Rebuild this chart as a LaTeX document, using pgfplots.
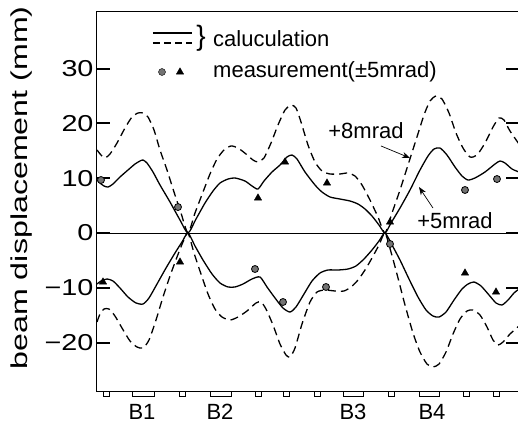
\documentclass[border=0pt]{standalone}
\usepackage{fontspec}
\setmainfont{Liberation Sans}
\usepackage{graphicx}
\usepackage{pgfplots}
\pgfplotsset{compat=1.18}
\usetikzlibrary{arrows.meta}
\newcommand\hs[1]{\scalebox{1.25}[1]{#1}}
\newcommand\bigf{\fontsize{22bp}{26bp}\selectfont}

\begin{document}
\begin{tikzpicture}
\begin{axis}[
    scale only axis, width=422bp, height=379bp,
    at={(0,0)}, anchor=south west,
    xmin=0, xmax=422, ymin=-28.83, ymax=40.33,
    clip=false,
    axis line style={line width=1bp},
    ytick={-20,-10,0,10,20,30},
    yticklabels={\hs{−20},\hs{−10},\hs{0},\hs{10},\hs{20},\hs{30}},
    yticklabel style={font=\fontsize{23bp}{26bp}\selectfont},
    ytick style={draw=black, line width=2bp},
    major tick length=13bp,
    xtick=\empty,
]
% zero line
\addplot[line width=0.9bp, forget plot] coordinates {(0,0)(422,0)};

% +5 mrad, calculation
\addplot[black, line width=1.3bp, smooth, tension=0.4] coordinates {
(0,9.67)(3,9.12)(7,8.58)(11,8.39)(16,8.94)(23,10.22)(31,11.50)(38,12.59)(43,13.14)(46,13.32)
(50,12.77)(56,11.13)(63,8.76)(73,5.66)(83,2.37)(91,0)(99,2.55)(108,5.47)(116,7.66)(123,9.12)
(131,9.85)(138,10.04)(148,9.49)(155,8.58)(161,8.03)(167,9.49)(175,11.13)(183,12.41)(190,13.87)
(195,14.23)(200,13.50)(208,11.13)(218,8.76)(225,7.48)(233,6.57)(243,6.20)(253,5.84)(261,5.29)
(268,4.38)(275,3.10)(282,1.46)(288,0)(294,1.82)(303,4.56)(313,7.85)(323,11.50)(331,14.05)
(337,15.33)(343,15.51)(350,14.23)(358,12.04)(365,10.40)(371,9.67)(378,10.04)(388,11.13)
(398,12.59)(403,13.14)(408,12.77)(415,11.68)(422,11.13)};
\addplot[black, line width=1.3bp, smooth, tension=0.4] coordinates {
(0,-9.31)(4,-8.76)(10,-8.39)(16,-8.76)(23,-10.04)(31,-11.68)(39,-12.77)(46,-12.96)(52,-11.86)
(60,-9.31)(69,-6.39)(78,-3.65)(85,-1.64)(91,0)(98,-2.37)(106,-4.93)(115,-7.48)(123,-9.12)
(131,-9.85)(138,-9.85)(146,-9.31)(155,-8.39)(163,-8.03)(170,-9.85)(178,-11.86)(186,-13.69)
(193,-14.42)(199,-13.50)(207,-11.13)(215,-8.76)(223,-7.30)(231,-6.75)(241,-6.75)(251,-6.57)
(259,-6.02)(267,-4.74)(275,-3.10)(282,-1.46)(288,0)(295,-2.19)(303,-4.93)(312,-8.39)
(321,-11.68)(329,-14.05)(336,-15.15)(342,-15.33)(349,-14.42)(357,-12.23)(365,-10.22)
(371,-9.31)(377,-8.94)(384,-9.67)(392,-11.31)(399,-12.77)(405,-13.14)(411,-12.23)
(417,-10.95)(422,-10.22)};

% +8 mrad, calculation
\addplot[black, line width=1.3bp, dash pattern=on 8bp off 5bp, smooth, tension=0.4] coordinates {
(0,15.15)(4,14.23)(8,13.69)(13,14.42)(20,16.42)(28,19.16)(35,21.17)(41,21.90)(46,21.90)
(51,21.17)(57,18.80)(63,15.15)(70,11.50)(77,7.48)(84,3.65)(91,0)(98,3.65)(106,7.48)(113,10.77)
(120,13.50)(127,15.15)(134,15.88)(141,15.51)(149,14.42)(156,13.32)(161,12.96)(167,13.69)
(174,16.42)(181,19.71)(188,22.45)(194,23.36)(199,22.81)(204,20.26)(211,16.06)(218,12.96)
(225,11.31)(233,10.77)(243,10.77)(251,10.95)(258,10.40)(265,8.76)(273,6.02)(281,2.92)(288,0)
(295,3.65)(303,7.85)(311,12.41)(319,16.97)(327,21.53)(333,24.09)(339,25.0)(345,24.45)
(352,21.90)(359,18.25)(366,15.51)(373,13.87)(380,14.23)(388,16.42)(396,19.34)(402,20.99)
(407,20.62)(413,18.61)(422,16.24)};
\addplot[black, line width=1.3bp, dash pattern=on 8bp off 5bp, smooth, tension=0.4] coordinates {
(0,-16.24)(3,-14.78)(7,-13.87)(12,-13.87)(18,-15.15)(25,-17.34)(33,-19.71)(40,-20.80)
(46,-20.99)(52,-19.53)(59,-15.88)(66,-11.68)(73,-7.85)(80,-4.38)(86,-1.64)(91,0)(97,-3.65)
(104,-7.48)(111,-11.13)(118,-13.87)(125,-15.33)(133,-15.88)(141,-15.33)(150,-14.23)
(159,-12.77)(164,-12.59)(169,-13.87)(176,-16.79)(183,-20.26)(189,-22.26)(193,-22.63)
(198,-20.99)(205,-16.61)(213,-12.59)(220,-10.77)(228,-10.40)(238,-10.58)(247,-10.58)
(254,-9.85)(261,-8.58)(268,-6.75)(275,-4.56)(282,-2.19)(288,0)(294,-3.47)(301,-8.21)
(308,-13.14)(316,-18.25)(323,-21.72)(330,-23.91)(336,-24.45)(342,-23.91)(349,-21.72)
(356,-18.43)(363,-15.69)(370,-14.23)(376,-14.05)(383,-14.96)(390,-17.15)(396,-19.53)
(401,-20.44)(406,-19.89)(413,-18.43)(422,-16.97)};

% measurements
\addplot[only marks, mark=*, mark size=3.5bp,
  mark options={fill=black!55, draw=black, line width=0.8bp}] coordinates {
(4,9.67)(81,4.74)(293,-2.0)(368,7.85)(400,9.85)(158,-6.57)(186,-12.59)(229,-9.85)};
\addplot[only marks, mark=triangle*, mark size=4.2bp,
  mark options={fill=black, draw=black}] coordinates {
(6,-8.94)(83,-5.29)(161,6.39)(188,12.96)(230,9.12)(293,2.0)(368,-7.3)(399,-10.77)};

% legend
\addplot[black, line width=1.3bp, forget plot] coordinates {(56,36.5)(95,36.5)};
\addplot[black, line width=1.3bp, dash pattern=on 7bp off 4bp, forget plot] coordinates {(56,34.67)(95,34.67)};
\addplot[only marks, mark=*, mark size=3.5bp, mark options={fill=black!55, draw=black}, forget plot]
  coordinates {(65,29.38)};
\addplot[only marks, mark=triangle*, mark size=4.2bp, mark options={fill=black}, forget plot]
  coordinates {(83,29.38)};
\node[font=\fontsize{28bp}{30bp}\selectfont] at (axis cs:104,35.6) {\}};
\node[font=\bigf, anchor=west, inner sep=0pt] at (axis cs:116,35.4) {caluculation};
\node[font=\bigf, anchor=west, inner sep=0pt] at (axis cs:116,29.38) {measurement(±5mrad)};

% annotations
\node[font=\bigf] at (axis cs:269,18.61) {+8mrad};
\draw[-{Stealth[length=8bp,width=6bp]}, line width=0.7bp] (axis cs:284,15.88) -- (axis cs:313,13.69);
\node[font=\bigf] at (axis cs:358,2.19) {+5mrad};
\draw[-{Stealth[length=8bp,width=6bp]}, line width=0.7bp] (axis cs:336,4.56) -- (axis cs:322,8.39);

% magnet lattice
\draw[line width=0.8bp] (axis cs:6,-28.83) rectangle (axis cs:12,-29.74);
\draw[line width=0.8bp] (axis cs:82,-28.83) rectangle (axis cs:88,-29.74);
\draw[line width=0.8bp] (axis cs:158,-28.83) rectangle (axis cs:164,-29.74);
\draw[line width=0.8bp] (axis cs:186,-28.83) rectangle (axis cs:192,-29.74);
\draw[line width=0.8bp] (axis cs:217,-28.83) rectangle (axis cs:223,-29.74);
\draw[line width=0.8bp] (axis cs:291,-28.83) rectangle (axis cs:297,-29.74);
\draw[line width=0.8bp] (axis cs:366,-28.83) rectangle (axis cs:372,-29.74);
\draw[line width=0.8bp] (axis cs:396,-28.83) rectangle (axis cs:402,-29.74);
\draw[line width=0.8bp] (axis cs:35,-28.83) rectangle (axis cs:57,-29.74);
\draw[line width=0.8bp] (axis cs:113,-28.83) rectangle (axis cs:134,-29.74);
\draw[line width=0.8bp] (axis cs:246,-28.83) rectangle (axis cs:266,-29.74);
\draw[line width=0.8bp] (axis cs:322,-28.83) rectangle (axis cs:342,-29.74);
\node[font=\bigf] at ([yshift=-21bp]axis cs:45,-28.83) {B1};
\node[font=\bigf] at ([yshift=-21bp]axis cs:123,-28.83) {B2};
\node[font=\bigf] at ([yshift=-21bp]axis cs:256,-28.83) {B3};
\node[font=\bigf] at ([yshift=-21bp]axis cs:335,-28.83) {B4};

% y label
\node[rotate=90, font=\fontsize{23bp}{26bp}\selectfont] at ([xshift=-75bp]rel axis cs:0,0.536)
  {\scalebox{1.4}[1]{beam displacement (mm)}};
\end{axis}
\pgfresetboundingbox
\path[use as bounding box] (-97bp,-32bp) rectangle (421bp,391bp);
\end{tikzpicture}
\end{document}
